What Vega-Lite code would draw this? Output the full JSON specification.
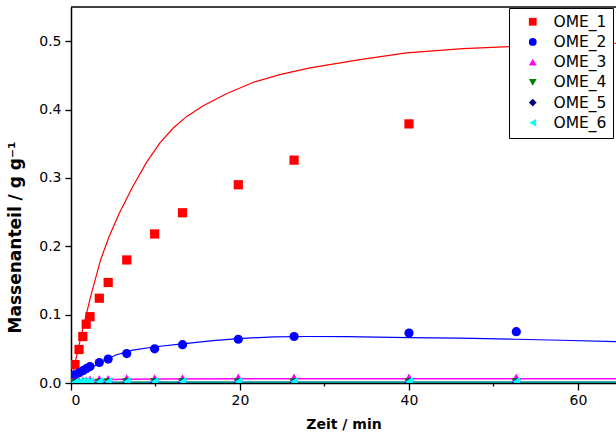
{
  "$schema": "https://vega.github.io/schema/vega-lite/v6.json",
  "autosize": {"type": "none"},
  "width": 545,
  "height": 376,
  "padding": {"left": 71, "top": 7, "right": 0, "bottom": 55},
  "background": "white",
  "config": {
    "view": {"stroke": null},
    "axis": {"grid": false, "domainColor": "black", "domainWidth": 1.5, "tickColor": "black", "tickWidth": 1.3, "labelColor": "black", "titleColor": "black", "labelFont": "DejaVu Sans", "labelFontSize": 14, "titleFont": "DejaVu Sans", "titleFontWeight": "bold"},
    "legend": {"orient": "none", "legendX": 438, "legendY": 1, "strokeColor": "black", "fillColor": "white", "padding": 6, "symbolOffset": 10, "labelOffset": 13, "labelFont": "DejaVu Sans", "labelFontSize": 15.5, "labelColor": "black", "symbolSize": 60, "rowPadding": 3.2, "zindex": 1, "symbolStrokeWidth": 0}
  },
  "datasets": {
    "pts": [
      {"series": "OME_1", "t": 0.47, "y": 0.027}, {"series": "OME_1", "t": 0.95, "y": 0.049}, {"series": "OME_1", "t": 1.4, "y": 0.068}, {"series": "OME_1", "t": 1.8, "y": 0.086}, {"series": "OME_1", "t": 2.25, "y": 0.097}, {"series": "OME_1", "t": 3.35, "y": 0.124}, {"series": "OME_1", "t": 4.4, "y": 0.147}, {"series": "OME_1", "t": 6.6, "y": 0.18}, {"series": "OME_1", "t": 9.9, "y": 0.218}, {"series": "OME_1", "t": 13.2, "y": 0.249}, {"series": "OME_1", "t": 19.8, "y": 0.29}, {"series": "OME_1", "t": 26.4, "y": 0.326}, {"series": "OME_1", "t": 40.0, "y": 0.379},
      {"series": "OME_2", "t": 0.47, "y": 0.012}, {"series": "OME_2", "t": 0.95, "y": 0.015}, {"series": "OME_2", "t": 1.4, "y": 0.018}, {"series": "OME_2", "t": 1.8, "y": 0.021}, {"series": "OME_2", "t": 2.25, "y": 0.024}, {"series": "OME_2", "t": 3.35, "y": 0.03}, {"series": "OME_2", "t": 4.4, "y": 0.035}, {"series": "OME_2", "t": 6.6, "y": 0.043}, {"series": "OME_2", "t": 9.9, "y": 0.05}, {"series": "OME_2", "t": 13.2, "y": 0.056}, {"series": "OME_2", "t": 19.8, "y": 0.064}, {"series": "OME_2", "t": 26.4, "y": 0.068}, {"series": "OME_2", "t": 40.0, "y": 0.073}, {"series": "OME_2", "t": 52.7, "y": 0.075},
      {"series": "OME_3", "t": 0.47, "y": 0.002}, {"series": "OME_3", "t": 0.95, "y": 0.003}, {"series": "OME_3", "t": 1.4, "y": 0.004}, {"series": "OME_3", "t": 1.8, "y": 0.004}, {"series": "OME_3", "t": 2.25, "y": 0.005}, {"series": "OME_3", "t": 3.35, "y": 0.006}, {"series": "OME_3", "t": 4.4, "y": 0.006}, {"series": "OME_3", "t": 6.6, "y": 0.007}, {"series": "OME_3", "t": 9.9, "y": 0.007}, {"series": "OME_3", "t": 13.2, "y": 0.007}, {"series": "OME_3", "t": 19.8, "y": 0.008}, {"series": "OME_3", "t": 26.4, "y": 0.008}, {"series": "OME_3", "t": 40.0, "y": 0.008}, {"series": "OME_3", "t": 52.7, "y": 0.008},
      {"series": "OME_4", "t": 0.47, "y": 0.0}, {"series": "OME_4", "t": 0.95, "y": 0.0}, {"series": "OME_4", "t": 1.4, "y": 0.0}, {"series": "OME_4", "t": 1.8, "y": 0.0005}, {"series": "OME_4", "t": 2.25, "y": 0.0005}, {"series": "OME_4", "t": 3.35, "y": 0.0005}, {"series": "OME_4", "t": 4.4, "y": 0.001}, {"series": "OME_4", "t": 6.6, "y": 0.001}, {"series": "OME_4", "t": 9.9, "y": 0.001}, {"series": "OME_4", "t": 13.2, "y": 0.001}, {"series": "OME_4", "t": 19.8, "y": 0.001}, {"series": "OME_4", "t": 26.4, "y": 0.001}, {"series": "OME_4", "t": 40.0, "y": 0.001}, {"series": "OME_4", "t": 52.7, "y": 0.001},
      {"series": "OME_5", "t": 0.47, "y": 0.0}, {"series": "OME_5", "t": 0.95, "y": 0.0}, {"series": "OME_5", "t": 1.4, "y": 0.0}, {"series": "OME_5", "t": 1.8, "y": 0.0}, {"series": "OME_5", "t": 2.25, "y": 0.0}, {"series": "OME_5", "t": 3.35, "y": 0.0005}, {"series": "OME_5", "t": 4.4, "y": 0.0005}, {"series": "OME_5", "t": 6.6, "y": 0.0005}, {"series": "OME_5", "t": 9.9, "y": 0.0005}, {"series": "OME_5", "t": 13.2, "y": 0.0005}, {"series": "OME_5", "t": 19.8, "y": 0.0005}, {"series": "OME_5", "t": 26.4, "y": 0.0005}, {"series": "OME_5", "t": 40.0, "y": 0.0005}, {"series": "OME_5", "t": 52.7, "y": 0.0005},
      {"series": "OME_6", "t": 0.47, "y": 0.001}, {"series": "OME_6", "t": 0.95, "y": 0.0015}, {"series": "OME_6", "t": 1.4, "y": 0.002}, {"series": "OME_6", "t": 1.8, "y": 0.002}, {"series": "OME_6", "t": 2.25, "y": 0.002}, {"series": "OME_6", "t": 3.35, "y": 0.002}, {"series": "OME_6", "t": 4.4, "y": 0.002}, {"series": "OME_6", "t": 6.6, "y": 0.002}, {"series": "OME_6", "t": 9.9, "y": 0.002}, {"series": "OME_6", "t": 13.2, "y": 0.002}, {"series": "OME_6", "t": 19.8, "y": 0.002}, {"series": "OME_6", "t": 26.4, "y": 0.002}, {"series": "OME_6", "t": 40.0, "y": 0.002}, {"series": "OME_6", "t": 52.7, "y": 0.002}
    ],
    "fits": [
      {"series": "OME_1", "t": 0, "y": 0}, {"series": "OME_1", "t": 0.5, "y": 0.03}, {"series": "OME_1", "t": 1.0, "y": 0.058}, {"series": "OME_1", "t": 1.5, "y": 0.085}, {"series": "OME_1", "t": 2.4, "y": 0.13}, {"series": "OME_1", "t": 3.5, "y": 0.18}, {"series": "OME_1", "t": 4.5, "y": 0.214}, {"series": "OME_1", "t": 5.7, "y": 0.248}, {"series": "OME_1", "t": 7.3, "y": 0.287}, {"series": "OME_1", "t": 8.9, "y": 0.322}, {"series": "OME_1", "t": 10.5, "y": 0.351}, {"series": "OME_1", "t": 12.1, "y": 0.373}, {"series": "OME_1", "t": 13.7, "y": 0.39}, {"series": "OME_1", "t": 15.7, "y": 0.406}, {"series": "OME_1", "t": 18.4, "y": 0.423}, {"series": "OME_1", "t": 21.6, "y": 0.44}, {"series": "OME_1", "t": 24.7, "y": 0.451}, {"series": "OME_1", "t": 28.3, "y": 0.461}, {"series": "OME_1", "t": 34.2, "y": 0.473}, {"series": "OME_1", "t": 39.7, "y": 0.483}, {"series": "OME_1", "t": 46.4, "y": 0.489}, {"series": "OME_1", "t": 51.9, "y": 0.492}, {"series": "OME_1", "t": 58.0, "y": 0.495}, {"series": "OME_1", "t": 64.5, "y": 0.497},
      {"series": "OME_2", "t": 0, "y": 0}, {"series": "OME_2", "t": 0.5, "y": 0.006}, {"series": "OME_2", "t": 1.4, "y": 0.0146}, {"series": "OME_2", "t": 3.3, "y": 0.029}, {"series": "OME_2", "t": 5.3, "y": 0.041}, {"series": "OME_2", "t": 7.3, "y": 0.048}, {"series": "OME_2", "t": 10.0, "y": 0.053}, {"series": "OME_2", "t": 12.9, "y": 0.057}, {"series": "OME_2", "t": 16.8, "y": 0.062}, {"series": "OME_2", "t": 19.8, "y": 0.065}, {"series": "OME_2", "t": 24.0, "y": 0.0675}, {"series": "OME_2", "t": 28.0, "y": 0.068}, {"series": "OME_2", "t": 32.6, "y": 0.0678}, {"series": "OME_2", "t": 39.9, "y": 0.0665}, {"series": "OME_2", "t": 46.0, "y": 0.0655}, {"series": "OME_2", "t": 52.7, "y": 0.064}, {"series": "OME_2", "t": 58.0, "y": 0.0625}, {"series": "OME_2", "t": 64.5, "y": 0.0605},
      {"series": "OME_3", "t": 0, "y": 0}, {"series": "OME_3", "t": 1.0, "y": 0.002}, {"series": "OME_3", "t": 2.0, "y": 0.0035}, {"series": "OME_3", "t": 3.5, "y": 0.0045}, {"series": "OME_3", "t": 6.0, "y": 0.0055}, {"series": "OME_3", "t": 10.0, "y": 0.006}, {"series": "OME_3", "t": 20.0, "y": 0.0063}, {"series": "OME_3", "t": 40.0, "y": 0.0063}, {"series": "OME_3", "t": 64.5, "y": 0.0062},
      {"series": "OME_6", "t": 0, "y": 0}, {"series": "OME_6", "t": 2.0, "y": 0.0008}, {"series": "OME_6", "t": 10.0, "y": 0.001}, {"series": "OME_6", "t": 64.5, "y": 0.001}
    ]
  },
  "layer": [
    {
      "data": {"name": "fits"},
      "transform": [{"filter": "datum.series === 'OME_6'"}],
      "mark": {"type": "line", "color": "#008f8f", "strokeWidth": 2, "clip": true},
      "encoding": {
        "x": {"field": "t", "type": "quantitative", "scale": {"domain": [0, 64.5], "nice": false}, "axis": {"orient": "bottom", "values": [0, 10, 20, 30, 40, 50, 60], "labelExpr": "datum.value % 20 === 0 ? datum.label : ''", "tickSize": {"condition": {"test": "datum.value % 20 === 0", "value": 7}, "value": 3}, "labelPadding": 3, "title": "Zeit / min", "titleFontSize": 14, "titlePadding": 10}},
        "y": {"field": "y", "type": "quantitative", "scale": {"domain": [0, 0.55], "nice": false}, "axis": {"orient": "left", "values": [0, 0.05, 0.1, 0.15, 0.2, 0.25, 0.3, 0.35, 0.4, 0.45, 0.5], "labelExpr": "abs(datum.value * 10 - round(datum.value * 10)) < 0.01 ? format(datum.value, '.1f') : ''", "tickSize": {"condition": {"test": "abs(datum.value * 10 - round(datum.value * 10)) < 0.01", "value": 6}, "value": 3}, "labelPadding": 4, "title": "Massenanteil / g g⁻¹", "titleFontSize": 17, "titleAngle": -90, "titleX": -56, "titleY": 230, "titleBaseline": "middle", "titleAlign": "center"}}
      }
    },
    {
      "data": {"name": "fits"},
      "transform": [{"filter": "datum.series === 'OME_3'"}],
      "mark": {"type": "line", "color": "#ff00ff", "strokeWidth": 1.5, "clip": true},
      "encoding": {"x": {"field": "t", "type": "quantitative"}, "y": {"field": "y", "type": "quantitative"}}
    },
    {
      "data": {"name": "fits"},
      "transform": [{"filter": "datum.series === 'OME_2'"}],
      "mark": {"type": "line", "color": "#0000ff", "strokeWidth": 1.2, "clip": true},
      "encoding": {"x": {"field": "t", "type": "quantitative"}, "y": {"field": "y", "type": "quantitative"}}
    },
    {
      "data": {"name": "fits"},
      "transform": [{"filter": "datum.series === 'OME_1'"}],
      "mark": {"type": "line", "color": "#ff0000", "strokeWidth": 1.2, "clip": true},
      "encoding": {"x": {"field": "t", "type": "quantitative"}, "y": {"field": "y", "type": "quantitative"}}
    },
    {
      "data": {"name": "pts"},
      "mark": {"type": "point", "filled": true, "opacity": 1, "size": 85, "clip": true},
      "encoding": {
        "x": {"field": "t", "type": "quantitative"},
        "y": {"field": "y", "type": "quantitative"},
        "color": {"field": "series", "type": "nominal", "scale": {"domain": ["OME_1", "OME_2", "OME_3", "OME_4", "OME_5", "OME_6"], "range": ["#ff0000", "#0000ff", "#ff00ff", "#008000", "#000080", "#00ffff"]}, "legend": {"title": null}},
        "shape": {"field": "series", "type": "nominal", "scale": {"domain": ["OME_1", "OME_2", "OME_3", "OME_4", "OME_5", "OME_6"], "range": ["square", "circle", "triangle-up", "triangle-down", "diamond", "triangle-left"]}, "legend": {"title": null}}
      }
    },
    {
      "data": {"values": [{}]},
      "mark": {"type": "rule", "color": "black", "strokeWidth": 1.5},
      "encoding": {"y": {"datum": 0.55}}
    }
  ]
}
